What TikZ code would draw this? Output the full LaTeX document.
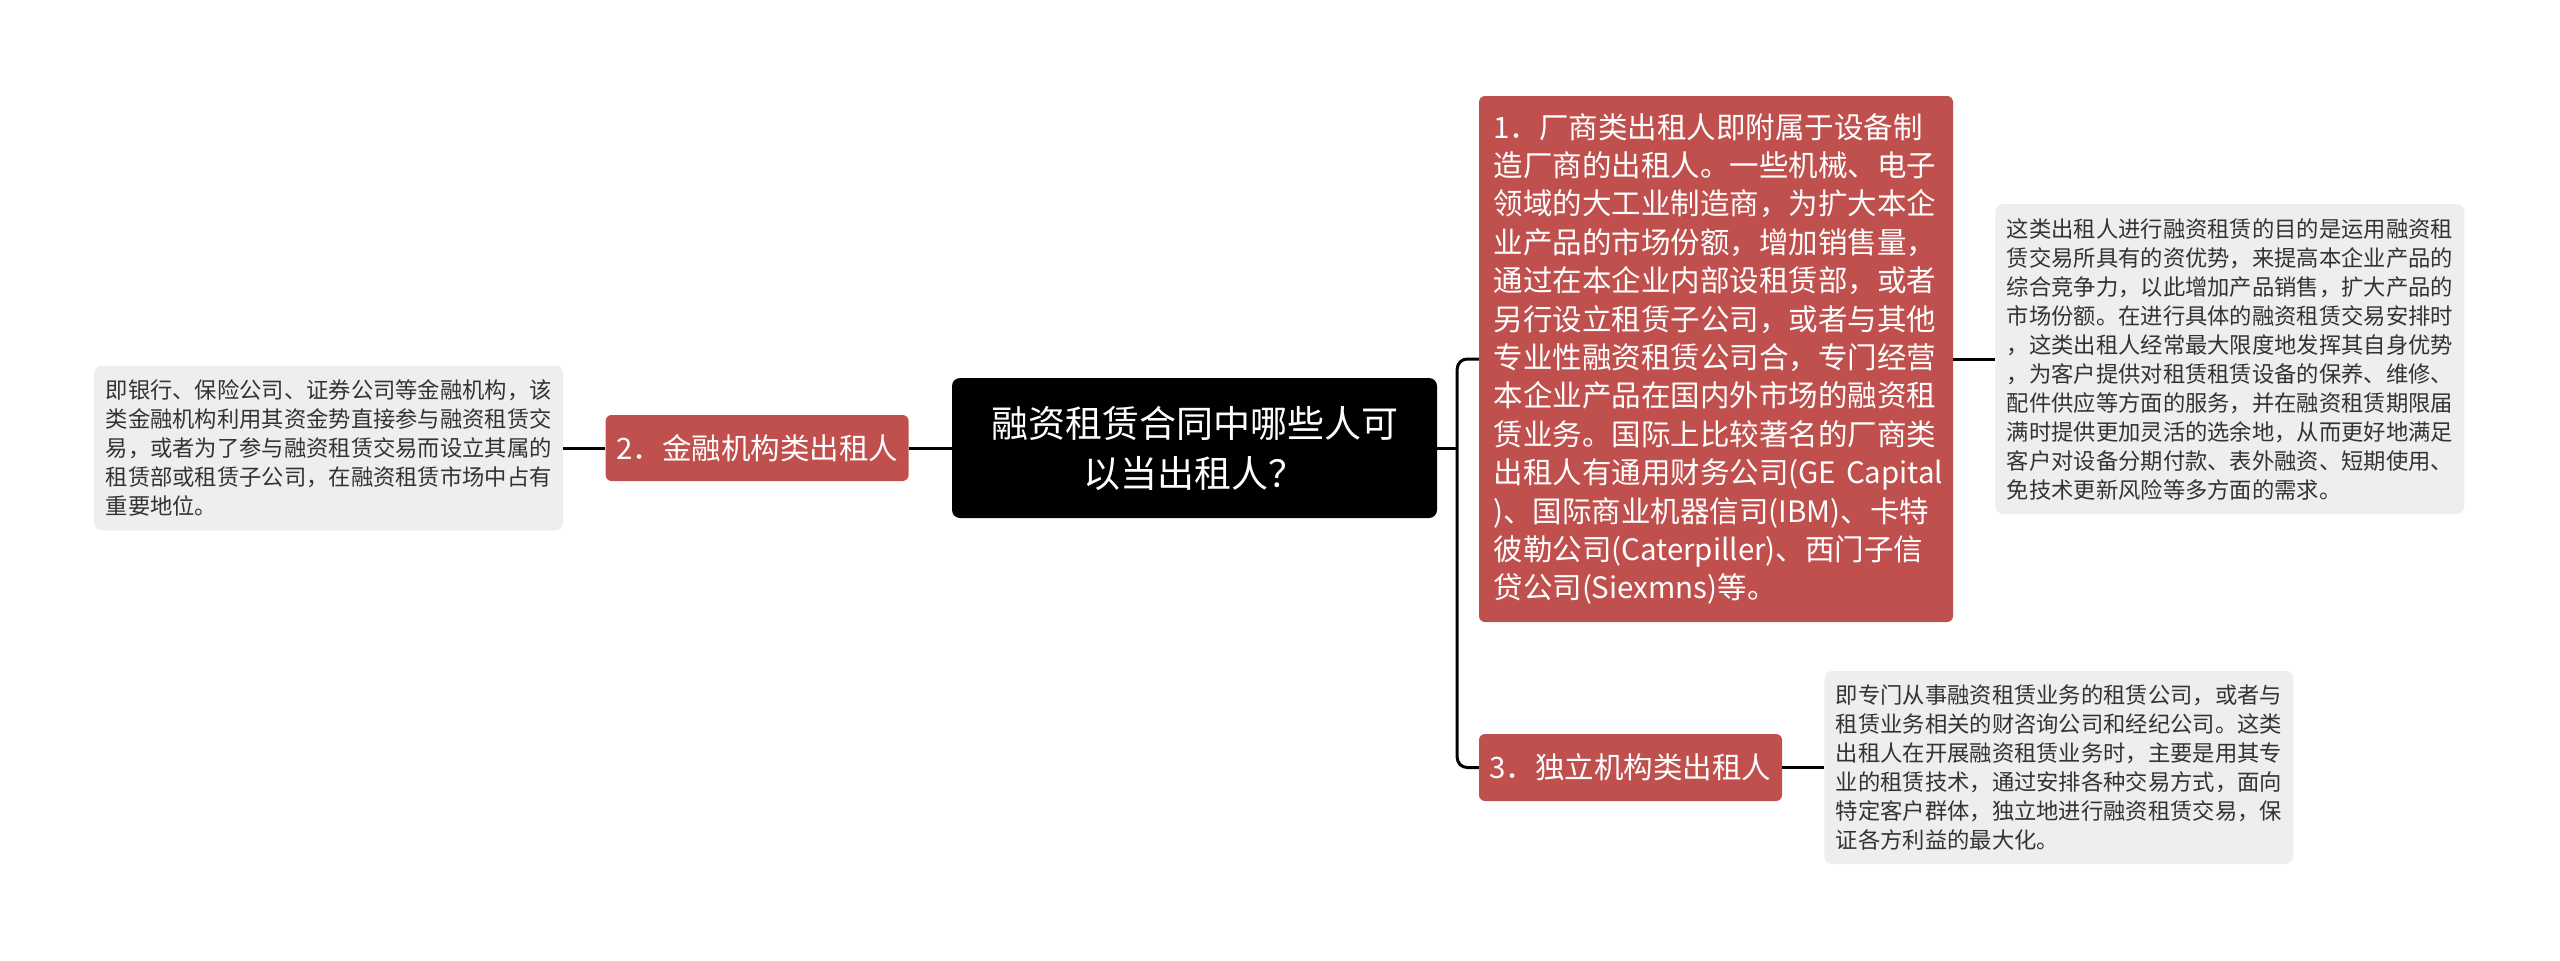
\documentclass[tikz,border=0pt]{standalone}
\usepackage{fontspec}
\usepackage{xcolor}
\usetikzlibrary{positioning}
\newfontfamily\cjk{Noto Sans CJK SC}
\definecolor{brRed}{HTML}{C0504D}
\definecolor{leafGray}{HTML}{EEEEEE}
\definecolor{leafText}{HTML}{333333}

\begin{document}
\begin{tikzpicture}[
  x=1pt, y=-1pt,
  font=\cjk,
  link/.style={draw=black, line width=3pt},
  root/.style={fill=black, text=white, rounded corners=8pt, align=center,
               font=\cjk\fontsize{37}{50}\selectfont,
               minimum width=485pt, minimum height=140pt},
  br/.style={fill=brRed, text=white, rounded corners=6pt, align=left,
             font=\cjk\fontsize{29.5}{38.4}\selectfont},
  leaf/.style={fill=leafGray, text=leafText, rounded corners=8pt, align=left,
               font=\cjk\fontsize{22.3}{29}\selectfont, text width=446pt,
               inner xsep=11.5pt, minimum height=#1},
  leaf/.default=165pt,
]
\path[use as bounding box, fill=white] (0,0) rectangle (2560,961);

%% ===== ROOT =====
\node[root] (main) at (1194.5,448)
    {融资租赁合同中哪些人可\\以当出租人？};

%% ===== LEFT: 2 =====
\node[br, minimum width=303pt, minimum height=66pt, inner xsep=8pt,
      left=43pt of main] (fin)
    {2．金融机构类出租人};

\node[leaf=165pt, left=42pt of fin] (finTxt)
    {即银行、保险公司、证券公司等金融机构，该\\
     类金融机构利用其资金势直接参与融资租赁交\\
     易，或者为了参与融资租赁交易而设立其属的\\
     租赁部或租赁子公司，在融资租赁市场中占有\\
     重要地位。};

%% ===== RIGHT: 1 =====
\node[br, text width=445pt, inner xsep=14.5pt, minimum height=526pt] (mfr) at (1716,359)
    {1．厂商类出租人即附属于设备制\\
     造厂商的出租人。一些机械、电子\\
     领域的大工业制造商，为扩大本企\\
     业产品的市场份额，增加销售量，\\
     通过在本企业内部设租赁部，或者\\
     另行设立租赁子公司，或者与其他\\
     专业性融资租赁公司合，专门经营\\
     本企业产品在国内外市场的融资租\\
     赁业务。国际上比较著名的厂商类\\
     \mbox{出租人有通用财务公司(GE Capital}\\
     \mbox{)、国际商业机器信司(IBM)、卡特}\\
     \mbox{彼勒公司(Caterpiller)、西门子信}\\
     贷公司(Siexmns)等。};

\node[leaf=310pt, right=42pt of mfr] (mfrTxt)
    {这类出租人进行融资租赁的目的是运用融资租\\
     赁交易所具有的资优势，来提高本企业产品的\\
     综合竞争力，以此增加产品销售，扩大产品的\\
     市场份额。在进行具体的融资租赁交易安排时\\
     ，这类出租人经常最大限度地发挥其自身优势\\
     ，为客户提供对租赁租赁设备的保养、维修、\\
     配件供应等方面的服务，并在融资租赁期限届\\
     满时提供更加灵活的选余地，从而更好地满足\\
     客户对设备分期付款、表外融资、短期使用、\\
     免技术更新风险等多方面的需求。};

%% ===== RIGHT: 3 =====
\node[br, minimum width=303pt, minimum height=67pt, inner xsep=8pt] (ind) at (1630.5,767.5)
    {3．独立机构类出租人};

\node[leaf=193pt, right=42pt of ind] (indTxt)
    {即专门从事融资租赁业务的租赁公司，或者与\\
     租赁业务相关的财咨询公司和经纪公司。这类\\
     出租人在开展融资租赁业务时，主要是用其专\\
     业的租赁技术，通过安排各种交易方式，面向\\
     特定客户群体，独立地进行融资租赁交易，保\\
     证各方利益的最大化。};

%% ===== CONNECTORS =====
\coordinate (jn) at ([xshift=20pt]main.east);
\draw[link] (main.west) -- (fin.east);
\draw[link] (fin.west) -- (finTxt.east);
\draw[link] (main.east) -- (jn);
\draw[link, rounded corners=10pt] (jn) |- (mfr.west);
\draw[link, rounded corners=10pt] (jn) |- (ind.west);
\draw[link] (mfr.east) -- (mfrTxt.west);
\draw[link] (ind.east) -- (indTxt.west);

\end{tikzpicture}
\end{document}
